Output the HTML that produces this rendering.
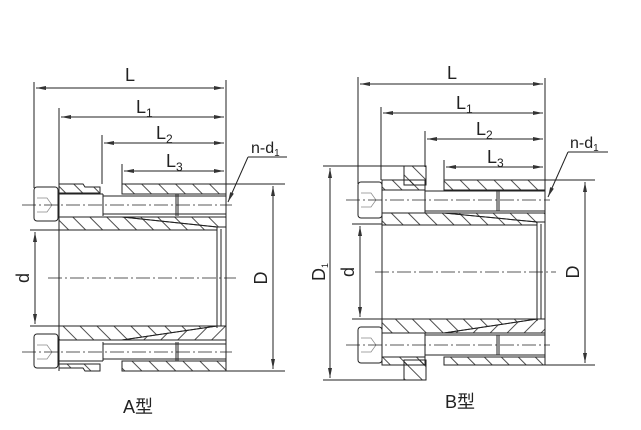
<!DOCTYPE html>
<html><head><meta charset="utf-8"><style>
html,body{margin:0;padding:0;background:#fff;}
svg{display:block;}
text{font-family:"Liberation Sans","Noto Sans CJK SC",sans-serif;fill:#222;}
</style></head><body>
<svg width="641" height="430" viewBox="0 0 641 430" xmlns="http://www.w3.org/2000/svg">
<defs>
<pattern id="h" patternUnits="userSpaceOnUse" width="12" height="12" patternTransform="rotate(-45)">
<line x1="6" y1="0" x2="6" y2="12" stroke="#222" stroke-width="0.8"/>
</pattern>
<pattern id="h2" patternUnits="userSpaceOnUse" width="12" height="12" patternTransform="rotate(45)">
<line x1="6" y1="0" x2="6" y2="12" stroke="#222" stroke-width="0.8"/>
</pattern>
<marker id="a" markerWidth="10" markerHeight="6" refX="10" refY="3" orient="auto" markerUnits="userSpaceOnUse">
<path d="M0,1 L10,3 L0,5 z" fill="#333"/>
</marker>
</defs>
<g stroke="#222" fill="none" stroke-width="1">

<line x1="34" y1="82" x2="34" y2="188"/>
<line x1="226" y1="80" x2="226" y2="184"/>
<line x1="59" y1="108" x2="59" y2="184"/>
<line x1="102" y1="135" x2="102" y2="184"/>
<line x1="122" y1="164" x2="122" y2="184"/>
<line x1="130" y1="88" x2="36" y2="88" marker-end="url(#a)"/><line x1="130" y1="88" x2="224" y2="88" marker-end="url(#a)"/>
<line x1="140" y1="117" x2="61" y2="117" marker-end="url(#a)"/><line x1="140" y1="117" x2="224" y2="117" marker-end="url(#a)"/>
<line x1="160" y1="143" x2="104" y2="143" marker-end="url(#a)"/><line x1="160" y1="143" x2="224" y2="143" marker-end="url(#a)"/>
<line x1="170" y1="171" x2="124" y2="171" marker-end="url(#a)"/><line x1="170" y1="171" x2="224" y2="171" marker-end="url(#a)"/>
<line x1="248" y1="157" x2="287" y2="157"/>
<line x1="248" y1="157" x2="228" y2="202" marker-end="url(#a)"/>

<g fill="url(#h)" stroke="#222">
<rect x="122" y="184" width="104" height="10"/>
<path d="M59,184 H83 L85,187 H100 V193 H59 Z"/>
<path d="M59,217 H122 L217,227 L217,230 H59 Z"/>
<path d="M122,217 H226 V227 H217 Z"/>
<path d="M59,326 H217 L217,326 L122,340 H59 Z"/>
<path d="M122,340 L217,326 H226 V340 Z" fill="url(#h2)"/>
<rect x="122" y="361" width="104" height="10"/>
<path d="M59,364 H100 V371 H85 L83,368 H59 Z"/>
</g>
<line x1="59" y1="184" x2="59" y2="371"/>
<line x1="226" y1="184" x2="226" y2="371"/>
<line x1="59" y1="230" x2="217" y2="230"/>
<line x1="59" y1="326" x2="217" y2="326"/>
<line x1="217" y1="227" x2="217" y2="328"/>
<line x1="221" y1="229" x2="221" y2="326"/>
<line x1="59" y1="217" x2="226" y2="217"/>
<line x1="59" y1="340" x2="226" y2="340"/>
<line x1="59" y1="194" x2="103" y2="194"/>
<line x1="103" y1="194" x2="103" y2="216"/>
<line x1="103" y1="196" x2="226" y2="196"/>
<line x1="103" y1="214" x2="226" y2="214"/>
<line x1="176" y1="194" x2="176" y2="216"/>
<line x1="178" y1="194" x2="178" y2="216"/>
<line x1="59" y1="361" x2="103" y2="361"/>
<line x1="103" y1="342" x2="103" y2="361"/>
<line x1="103" y1="344" x2="226" y2="344"/>
<line x1="103" y1="359" x2="226" y2="359"/>
<line x1="176" y1="342" x2="176" y2="361"/>
<line x1="178" y1="342" x2="178" y2="361"/>
<rect x="34" y="187" width="24" height="34" rx="3"/>
<rect x="34" y="334" width="24" height="34" rx="3"/>
<path d="M37,198 H47 L52,205 L47,212 H37" stroke="#888" stroke-width="0.7"/>
<path d="M37,345 H47 L52,352 L47,359 H37" stroke="#888" stroke-width="0.7"/>
<g stroke-dasharray="14,3,2,3" stroke-width="0.8">
<line x1="22" y1="205" x2="232" y2="205"/>
<line x1="22" y1="352" x2="232" y2="352"/>
<line x1="48" y1="278" x2="236" y2="278"/>
</g>
<line x1="30" y1="230" x2="59" y2="230"/><line x1="30" y1="326" x2="59" y2="326"/>
<line x1="35" y1="278" x2="35" y2="232" marker-end="url(#a)"/><line x1="35" y1="278" x2="35" y2="324" marker-end="url(#a)"/>
<line x1="226" y1="184" x2="285" y2="184"/><line x1="226" y1="371" x2="285" y2="371"/>
<line x1="273" y1="278" x2="273" y2="186" marker-end="url(#a)"/><line x1="273" y1="278" x2="273" y2="369" marker-end="url(#a)"/>

<line x1="358" y1="77" x2="358" y2="184"/>
<line x1="545" y1="78" x2="545" y2="180"/>
<line x1="381" y1="107" x2="381" y2="180"/>
<line x1="425" y1="131" x2="425" y2="167"/>
<line x1="444" y1="160" x2="444" y2="180"/>
<line x1="450" y1="84" x2="360" y2="84" marker-end="url(#a)"/><line x1="450" y1="84" x2="543" y2="84" marker-end="url(#a)"/>
<line x1="460" y1="113" x2="383" y2="113" marker-end="url(#a)"/><line x1="460" y1="113" x2="543" y2="113" marker-end="url(#a)"/>
<line x1="480" y1="139" x2="427" y2="139" marker-end="url(#a)"/><line x1="480" y1="139" x2="543" y2="139" marker-end="url(#a)"/>
<line x1="490" y1="167" x2="446" y2="167" marker-end="url(#a)"/><line x1="490" y1="167" x2="543" y2="167" marker-end="url(#a)"/>
<line x1="568" y1="152" x2="608" y2="152"/>
<line x1="568" y1="152" x2="548" y2="197" marker-end="url(#a)"/>

<g fill="url(#h)" stroke="#222">
<rect x="444" y="180" width="101" height="10"/>
<rect x="382" y="180" width="43" height="10"/>
<rect x="404" y="166" width="22" height="19"/>
<path d="M382,213 H444 L537,222 V225 H382 Z"/>
<path d="M444,213 H545 V222 H537 Z"/>
<path d="M382,319 H537 L444,333 H382 Z"/>
<path d="M444,333 L537,319 H545 V333 Z" fill="url(#h2)"/>
<rect x="444" y="357" width="101" height="8"/>
<rect x="382" y="357" width="43" height="8"/>
<rect x="404" y="360" width="22" height="20"/>
</g>
<line x1="382" y1="180" x2="382" y2="365"/>
<line x1="545" y1="180" x2="545" y2="365"/>
<line x1="382" y1="225" x2="537" y2="225"/>
<line x1="382" y1="319" x2="537" y2="319"/>
<line x1="537" y1="222" x2="537" y2="321"/>
<line x1="541" y1="224" x2="541" y2="319"/>
<line x1="382" y1="213" x2="545" y2="213"/>
<line x1="382" y1="333" x2="545" y2="333"/>
<line x1="425" y1="190" x2="425" y2="213"/>
<line x1="425" y1="191" x2="545" y2="191"/>
<line x1="425" y1="211" x2="545" y2="211"/>
<line x1="497" y1="191" x2="497" y2="211"/>
<line x1="499" y1="191" x2="499" y2="211"/>
<line x1="425" y1="333" x2="425" y2="357"/>
<line x1="425" y1="335" x2="545" y2="335"/>
<line x1="425" y1="355" x2="545" y2="355"/>
<line x1="497" y1="335" x2="497" y2="355"/>
<line x1="499" y1="335" x2="499" y2="355"/>
<rect x="358" y="182" width="24" height="36" rx="3"/>
<rect x="358" y="327" width="24" height="36" rx="3"/>
<path d="M361,193 H371 L376,200 L371,207 H361" stroke="#888" stroke-width="0.7"/>
<path d="M361,338 H371 L376,345 L371,352 H361" stroke="#888" stroke-width="0.7"/>
<g stroke-dasharray="14,3,2,3" stroke-width="0.8">
<line x1="346" y1="200" x2="550" y2="200"/>
<line x1="346" y1="345" x2="550" y2="345"/>
<line x1="375" y1="272" x2="556" y2="272"/>
</g>
<line x1="323" y1="166" x2="404" y2="166"/><line x1="323" y1="380" x2="404" y2="380"/>
<line x1="330" y1="272" x2="330" y2="168" marker-end="url(#a)"/><line x1="330" y1="272" x2="330" y2="378" marker-end="url(#a)"/>
<line x1="352" y1="224" x2="382" y2="224"/><line x1="352" y1="319" x2="382" y2="319"/>
<line x1="360" y1="272" x2="360" y2="226" marker-end="url(#a)"/><line x1="360" y1="272" x2="360" y2="317" marker-end="url(#a)"/>
<line x1="545" y1="180" x2="595" y2="180"/><line x1="545" y1="365" x2="595" y2="365"/>
<line x1="585" y1="272" x2="585" y2="182" marker-end="url(#a)"/><line x1="585" y1="272" x2="585" y2="363" marker-end="url(#a)"/>
</g>

<g font-size="18">
<text x="125" y="81">L</text>
<text x="136" y="113">L<tspan font-size="12" dy="4">1</tspan></text>
<text x="156" y="139">L<tspan font-size="12" dy="4">2</tspan></text>
<text x="166" y="167">L<tspan font-size="12" dy="4">3</tspan></text>
<text x="251" y="153" font-size="16">n-d<tspan font-size="10" dy="3">1</tspan></text>
<text x="447" y="79">L</text>
<text x="456" y="109">L<tspan font-size="12" dy="4">1</tspan></text>
<text x="476" y="135">L<tspan font-size="12" dy="4">2</tspan></text>
<text x="487" y="163">L<tspan font-size="12" dy="4">3</tspan></text>
<text x="570" y="148" font-size="16">n-d<tspan font-size="10" dy="3">1</tspan></text>
<text transform="translate(29,278) rotate(-90)" text-anchor="middle">d</text>
<text transform="translate(267,278) rotate(-90)" text-anchor="middle">D</text>
<text transform="translate(354,272) rotate(-90)" text-anchor="middle">d</text>
<text transform="translate(579,272) rotate(-90)" text-anchor="middle">D</text>
<text transform="translate(325,272) rotate(-90)" text-anchor="middle">D<tspan font-size="9" dy="3">1</tspan></text>
<text x="123" y="413">A型</text>
<text x="445" y="408">B型</text>
</g>
</svg>
</body></html>
